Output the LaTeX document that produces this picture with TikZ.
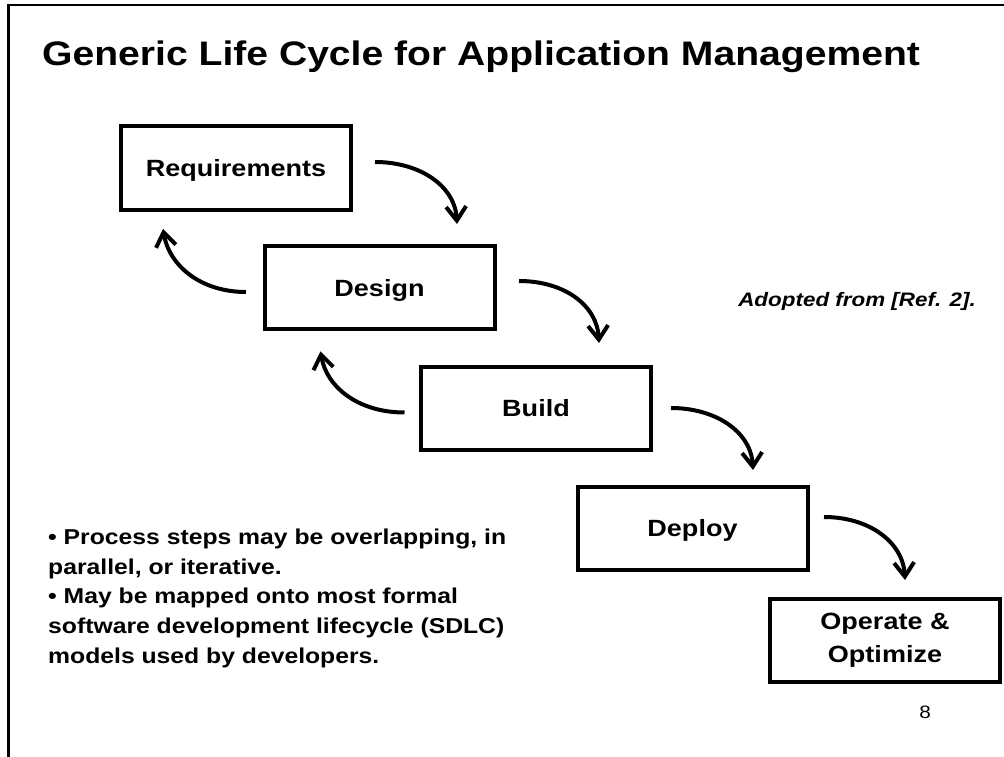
\documentclass[tikz,border=0pt]{standalone}
\usepackage{fontspec}
\setmainfont[FakeStretch=1.15]{Liberation Sans}
\usetikzlibrary{arrows.meta,calc}

\begin{document}
\begin{tikzpicture}[x=1pt,y=-1pt,
  stagebox/.style={draw, line width=4pt, minimum width=230pt, minimum height=83pt,
    inner sep=0pt, align=center, font=\fontsize{23.5}{33}\selectfont\bfseries},
  oneline/.style={text height=17pt, text depth=0pt},
  flow/.style={line width=4pt, -{Straight Barb[length=14pt,width=20pt]}},
  bullet/.style={anchor=base west, inner sep=0pt, font=\fontsize{21.5}{30}\selectfont\bfseries}
]
\useasboundingbox (0,0) rectangle (1004,757);

% slide frame
\draw[line width=2.5pt] (8.5,757) -- (8.5,5) -- (1004,5);

% title
\node[anchor=base west, inner sep=0pt, font=\fontsize{34}{40}\selectfont\bfseries] (title) at (42,66)
  {Generic Life Cycle for Application Management};

% life-cycle stages
\node[stagebox, oneline] (req) at (236,168) {Requirements};
\node[stagebox, oneline] (des) at (379.5,287.5) {Design};
\node[stagebox, oneline] (bld) at (536,408) {Build};
\node[stagebox, oneline] (dep) at (692.5,528) {Deploy};
\node[stagebox] (opt) at (885,640) {Operate \&\\Optimize};

% forward transitions
\draw[flow] ($(req.east)+(22,-6)$) .. controls +(45,0) and +(-2,-38) .. ($(des.north)+(77.5,-20)$);
\draw[flow] ($(des.east)+(22.5,-6.5)$) .. controls +(45,0) and +(-2,-38) .. ($(bld.north)+(63,-21.5)$);
\draw[flow] ($(bld.east)+(18,0)$) .. controls +(45,0) and +(-2,-38) .. ($(dep.north)+(60.5,-14.5)$);
\draw[flow] ($(dep.east)+(14.5,-11)$) .. controls +(45,0) and +(-2,-38) .. ($(opt.north)+(20,-16.5)$);

% feedback transitions
\draw[flow] ($(des.west)+(-16.5,4.5)$) .. controls +(-46,0) and +(6,36) .. ($(req.south west)+(44,17.5)$);
\draw[flow] ($(bld.west)+(-14.5,4.5)$) .. controls +(-46,0) and +(6,36) .. ($(des.south west)+(58,20.3)$);

% source note
\node[anchor=base east, inner sep=0pt, font=\fontsize{19.5}{24}\selectfont\bfseries\itshape] (src) at (976,306)
  {Adopted from [Ref. 2].};

% remarks
\node[bullet] (r1) at (48,544) {• Process steps may be overlapping, in};
\node[bullet] (r2) at (48,574) {parallel, or iterative.};
\node[bullet] (r3) at (48,603.5) {• May be mapped onto most formal};
\node[bullet] (r4) at (48,633) {software development lifecycle (SDLC)};
\node[bullet] (r5) at (48,663) {models used by developers.};

% page number
\node[anchor=base, inner sep=0pt, font=\fontsize{18}{20}\selectfont] (pg) at (925,718) {8};
\end{tikzpicture}
\end{document}
